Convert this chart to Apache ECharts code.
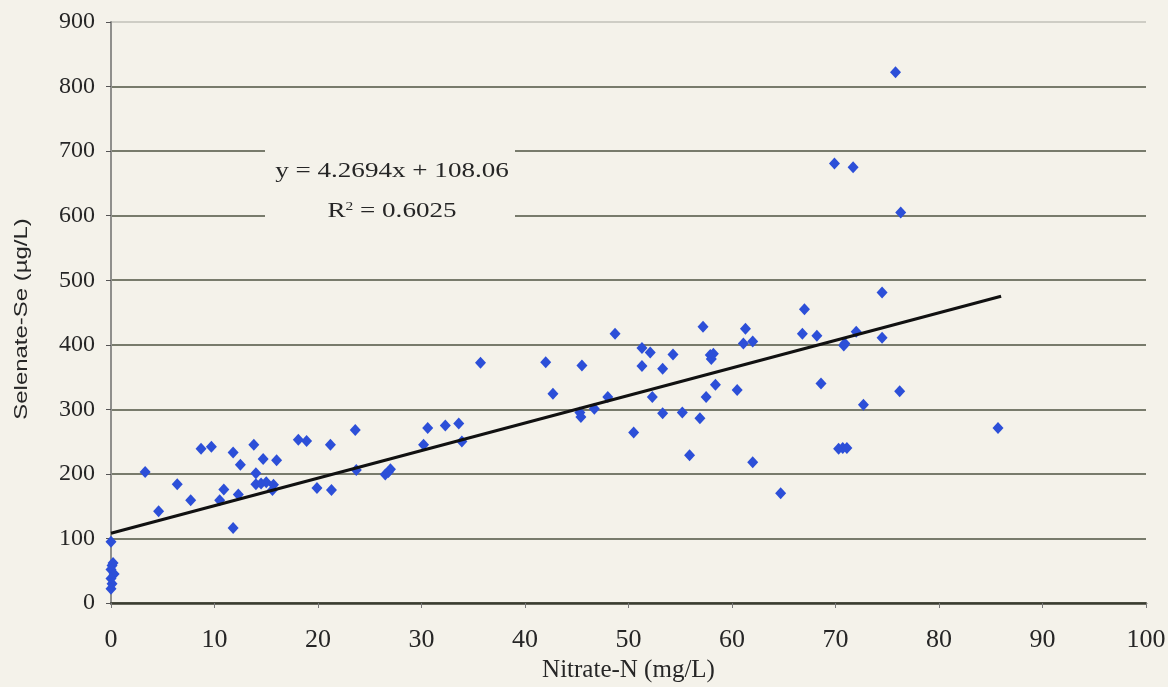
<!DOCTYPE html>
<html>
<head>
<meta charset="utf-8">
<script src="https://cdn.jsdelivr.net/npm/echarts@6/dist/echarts.min.js"></script>
<style>
  html, body { margin: 0; padding: 0; background: #f4f2ea; }
  #chart { width: 1168px; height: 687px; }
</style>
</head>
<body>
<div id="chart"></div>
<script>
// Nitrate-N (mg/L) for each well sample
const nitrateN = [
  0, 0.2, 0.1, 0, 0.3, 0, 0.1, 0,
  3.3, 4.6, 6.4, 7.7, 8.7, 9.7, 11.8, 12.5, 10.9, 10.5, 11.8, 12.3,
  13.8, 14.0, 14.0, 14.5, 15.0, 14.7, 15.6, 15.7, 16.0, 18.1, 18.9, 19.9,
  21.2, 21.3, 23.6, 23.7, 26.5, 26.8, 27.0, 30.2, 30.6, 32.3, 33.6, 33.9,
  35.7, 42.0, 42.7, 45.3, 45.4, 45.5, 46.7, 48.0, 48.7, 50.5, 51.3, 52.1,
  51.3, 52.3, 53.3, 53.3, 54.3, 55.2, 56.9, 55.9, 57.2, 57.9, 58.0, 58.2,
  57.5, 58.4, 60.5, 61.3, 61.1, 62.0, 62.0, 64.7, 67.0, 66.8, 68.2, 68.6,
  70.3, 70.7, 71.1, 70.8, 70.9, 72.0, 72.7, 74.5, 74.5, 76.2, 85.7,
  75.8, 69.9, 71.7, 76.3
];
// Selenate-Se (µg/L) for the same samples
const selenateSe = [
  95, 62, 58, 52, 45, 38, 30, 22,
  203, 142, 184, 159, 239, 242, 233, 214, 176, 159, 116, 168,
  245, 201, 184, 185, 187, 223, 175, 183, 221, 253, 251, 178,
  245, 175, 268, 206, 199, 203, 207, 245, 271, 275, 278, 250,
  372, 373, 324, 295, 288, 368, 301, 319, 417, 264, 395, 388,
  367, 319, 363, 294, 385, 295, 286, 229, 428, 384, 378, 386,
  319, 338, 330, 425, 402, 405, 218, 170, 455, 417, 414, 340,
  239, 240, 240, 399, 402, 420, 307, 481, 411, 328, 271,
  822, 681, 675, 605
];
// Least-squares fit
const slope = 4.2694;
const intercept = 108.06;
const rSquared = 0.6025;
const fitRange = [0, 86];

const xTicks = { min: 0, max: 100, interval: 10 };
const yTicks = { min: 0, max: 900, interval: 100 };

const points = nitrateN.map((x, i) => [x, selenateSe[i]]);
const fitLine = fitRange.map(x => [x, slope * x + intercept]);

const serif = '"Liberation Serif", "Times New Roman", serif';
const sans = '"Liberation Sans", Arial, sans-serif';
const bg = '#f4f2ea';
const ink = '#262626';

// gridline colours, bottom to top; the top (900) line is faint
const gridColors = ['#4f5342', '#4f5342', '#4f5342', '#4f5342', '#4f5342',
  '#4f5342', '#4f5342', '#4f5342', '#4f5342', '#c2c0b8'];

const chart = echarts.init(document.getElementById('chart'));
chart.setOption({
  backgroundColor: bg,
  animation: false,
  grid: { left: 111, right: 22, top: 22, bottom: 84, show: false, outerBoundsMode: 'none' },
  xAxis: {
    type: 'value',
    min: xTicks.min, max: xTicks.max, interval: xTicks.interval,
    name: 'Nitrate-N (mg/L)',
    nameLocation: 'middle',
    nameGap: 52,
    nameTextStyle: { fontFamily: serif, fontSize: 25, color: ink },
    axisLine: { lineStyle: { color: '#3a3d30', width: 2.5 } },
    axisTick: { show: true, length: 5, lineStyle: { color: '#777', width: 1 } },
    axisLabel: { fontFamily: serif, fontSize: 26, color: ink, margin: 24 },
    splitLine: { show: false }
  },
  yAxis: {
    type: 'value',
    min: yTicks.min, max: yTicks.max, interval: yTicks.interval,
    axisLine: { show: true, lineStyle: { color: '#8f8f8c', width: 2 } },
    axisTick: { show: true, length: 5, lineStyle: { color: '#555', width: 1 } },
    axisLabel: { fontFamily: serif, fontSize: 24, color: ink, margin: 16 },
    splitLine: { show: true, lineStyle: { color: gridColors, width: 1.5 } }
  },
  series: [
    {
      name: 'Samples',
      type: 'scatter',
      data: points,
      symbol: 'diamond',
      symbolSize: [11, 12],
      itemStyle: { color: '#2c4fd8', opacity: 1 },
      z: 3
    },
    {
      name: 'Linear fit',
      type: 'line',
      data: fitLine,
      showSymbol: false,
      lineStyle: { color: '#111', width: 3 },
      z: 4
    }
  ],
  graphic: [
    // y-axis title, rotated
    {
      type: 'text',
      x: 22, y: 319,
      rotation: Math.PI / 2,
      scaleX: 1.26,
      style: {
        text: 'Selenate-Se (µg/L)',
        font: '19px ' + sans, fill: ink,
        textAlign: 'center', textVerticalAlign: 'middle'
      }
    },
    // box behind the fit equation
    {
      type: 'rect',
      shape: { x: 265, y: 143, width: 250, height: 84 },
      style: { fill: bg },
      z: 10
    },
    {
      type: 'text',
      x: 392, y: 171,
      scaleX: 1.29,
      style: {
        text: 'y = ' + slope + 'x + ' + intercept.toFixed(2),
        font: '21px ' + serif, fill: ink,
        textAlign: 'center', textVerticalAlign: 'middle'
      },
      z: 11
    },
    {
      type: 'text',
      x: 392, y: 211,
      scaleX: 1.29,
      style: {
        text: '{r|R}{s|2}{r| = ' + rSquared + '}',
        rich: {
          r: { font: '21px ' + serif, fill: ink, color: ink },
          s: { font: '12px ' + serif, fill: ink, color: ink, verticalAlign: 'top', padding: [0, 0, 9, 0] }
        },
        textAlign: 'center', textVerticalAlign: 'middle'
      },
      z: 11
    }
  ]
});
</script>
</body>
</html>
